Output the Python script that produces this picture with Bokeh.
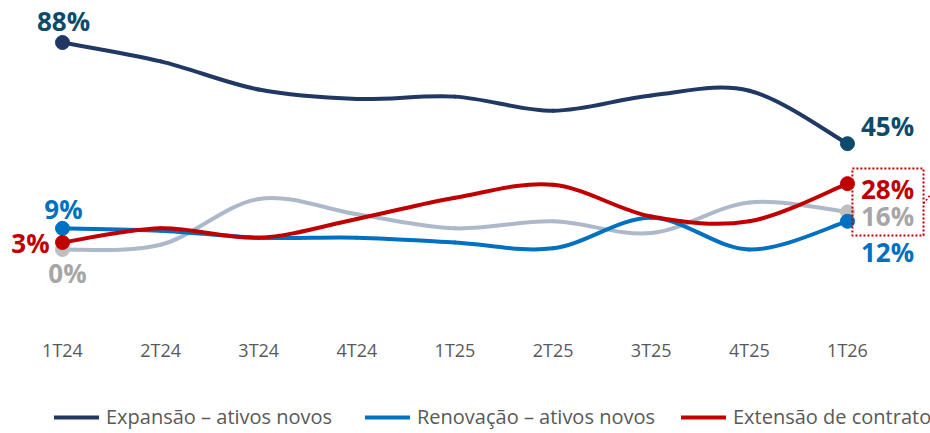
import numpy as np
from bokeh.plotting import figure
from bokeh.models import (ColumnDataSource, Range1d, FixedTicker, Legend, LegendItem,
                          BoxAnnotation)
from bokeh.core.properties import value
from bokeh.embed import file_html
from bokeh.resources import INLINE

# ---------------- data ----------------
categories = ["1T24", "2T24", "3T24", "4T24", "1T25", "2T25", "3T25", "4T25", "1T26"]
expansao = [88, 80, 68, 64, 65, 59, 65.5, 67.5, 45]
renovacao = [9, 8, 5, 5, 3, 0.5, 13.5, 0, 12]
extensao = [3, 9, 5, 13, 22, 27.5, 14, 12, 28]
outros = [0, 2, 21.5, 15, 9, 12, 7, 20, 16]
names = ["Expansão – ativos novos", "Renovação – ativos novos", "Extensão de contrato", "Outros"]

# ---------------- style ----------------
line_colors = ["#1F3864", "#0070C0", "#C00000", "#ADB9CA"]
marker_colors = ["#1F3864", "#0070C0", "#C00000", "#BFBFBF"]
end_marker_colors = ["#0E4A6B", "#0070C0", "#C00000", "#BFBFBF"]
label_colors = ["#0D4A6B", "#0070C0", "#C00000", "#A6A6A6"]
start_offsets = [(1, -22), (1, -19), (-32, 1), (5, 23)]
end_offsets = [(40, -18), (40, 31), (40, 5), (40, 4)]
legend_x = [54, 365, 681]          # screen px of each legend entry
FONT = "Open Sans"

xs = list(range(len(categories)))
series = [expansao, renovacao, extensao, outros]

p = figure(frame_width=930, frame_height=433,
           x_range=Range1d(-0.632, 8.846), y_range=Range1d(-78.23, 105.87),
           output_backend="svg", toolbar_location=None, min_border=0,
           outline_line_color=None, background_fill_color="white",
           border_fill_color="white")
p.grid.visible = False
p.yaxis.visible = False

ax = p.xaxis[0]
ax.fixed_location = -34.44
ax.ticker = FixedTicker(ticks=xs)
ax.major_label_overrides = {i: c for i, c in enumerate(categories)}
ax.axis_line_color = None
ax.major_tick_line_color = None
ax.minor_tick_line_color = None
ax.major_tick_out = 0
ax.major_tick_in = 0
ax.major_label_standoff = 7
ax.major_label_text_font = FONT
ax.major_label_text_font_size = "18px"
ax.major_label_text_color = "#595959"


def bezier_segments(xv, yv):
    n = len(xv)
    P = np.column_stack([xv, yv]).astype(float)
    d = dict(x0=[], y0=[], x1=[], y1=[], cx0=[], cy0=[], cx1=[], cy1=[])
    for i in range(n - 1):
        p0 = P[i - 1] if i > 0 else P[i]
        p1, p2 = P[i], P[i + 1]
        p3 = P[i + 2] if i + 2 < n else P[i + 1]
        c1 = p1 + (p2 - p0) / 6.0
        c2 = p2 - (p3 - p1) / 6.0
        d["x0"].append(p1[0]); d["y0"].append(p1[1])
        d["x1"].append(p2[0]); d["y1"].append(p2[1])
        d["cx0"].append(c1[0]); d["cy0"].append(c1[1])
        d["cx1"].append(c2[0]); d["cy1"].append(c2[1])
    return ColumnDataSource(d)


renderers = {}
for idx in [0, 3, 1, 2]:
    src = bezier_segments(xs, series[idx])
    renderers[idx] = p.bezier(x0="x0", y0="y0", x1="x1", y1="y1", cx0="cx0", cy0="cy0",
                              cx1="cx1", cy1="cy1", source=src, line_color=line_colors[idx],
                              line_width=4, line_cap="round")

for idx in [0, 3, 1, 2]:
    s = series[idx]
    p.scatter(x=[xs[0]], y=[s[0]], size=14, color=marker_colors[idx])
    p.scatter(x=[xs[-1]], y=[s[-1]], size=14, color=end_marker_colors[idx])

# labels
for idx in range(4):
    s = series[idx]
    for (xi, vi, off) in [(xs[0], s[0], start_offsets[idx]), (xs[-1], s[-1], end_offsets[idx])]:
        p.text(x=[xi], y=[vi], text=[f"{vi:.0f}%"], x_offset=off[0], y_offset=off[1],
               text_font=value(FONT), text_font_style="bold",
               text_font_size="26px", text_color=label_colors[idx],
               text_align="center", text_baseline="middle")

# dotted callout box around the 28% / 16% end labels
last = xs[-1]
box = BoxAnnotation(left=last + 0.05, right=last + 0.775,
                    top=extensao[-1] + 6.4, bottom=outros[-1] - 10,
                    fill_alpha=0, line_color="#C00000", line_alpha=1, line_width=2,
                    line_dash="2 2")
p.add_layout(box)
p.segment(x0=[last + 0.775], y0=[outros[-1] + 3.5], x1=[last + 0.95], y1=[outros[-1] + 13],
          line_color="#C00000", line_width=1.5, line_dash="2 2")

for k, idx in enumerate([0, 1, 2]):
    lg = Legend(items=[LegendItem(label=names[idx], renderers=[renderers[idx]])],
                location=(legend_x[k], 3), margin=0, padding=0,
                glyph_width=45, glyph_height=20, label_height=20, label_standoff=7,
                border_line_color=None, background_fill_alpha=0,
                label_text_font=FONT, label_text_font_size="20px",
                label_text_color="#595959")
    p.add_layout(lg)

open("out.html", "w").write(file_html(p, INLINE))
